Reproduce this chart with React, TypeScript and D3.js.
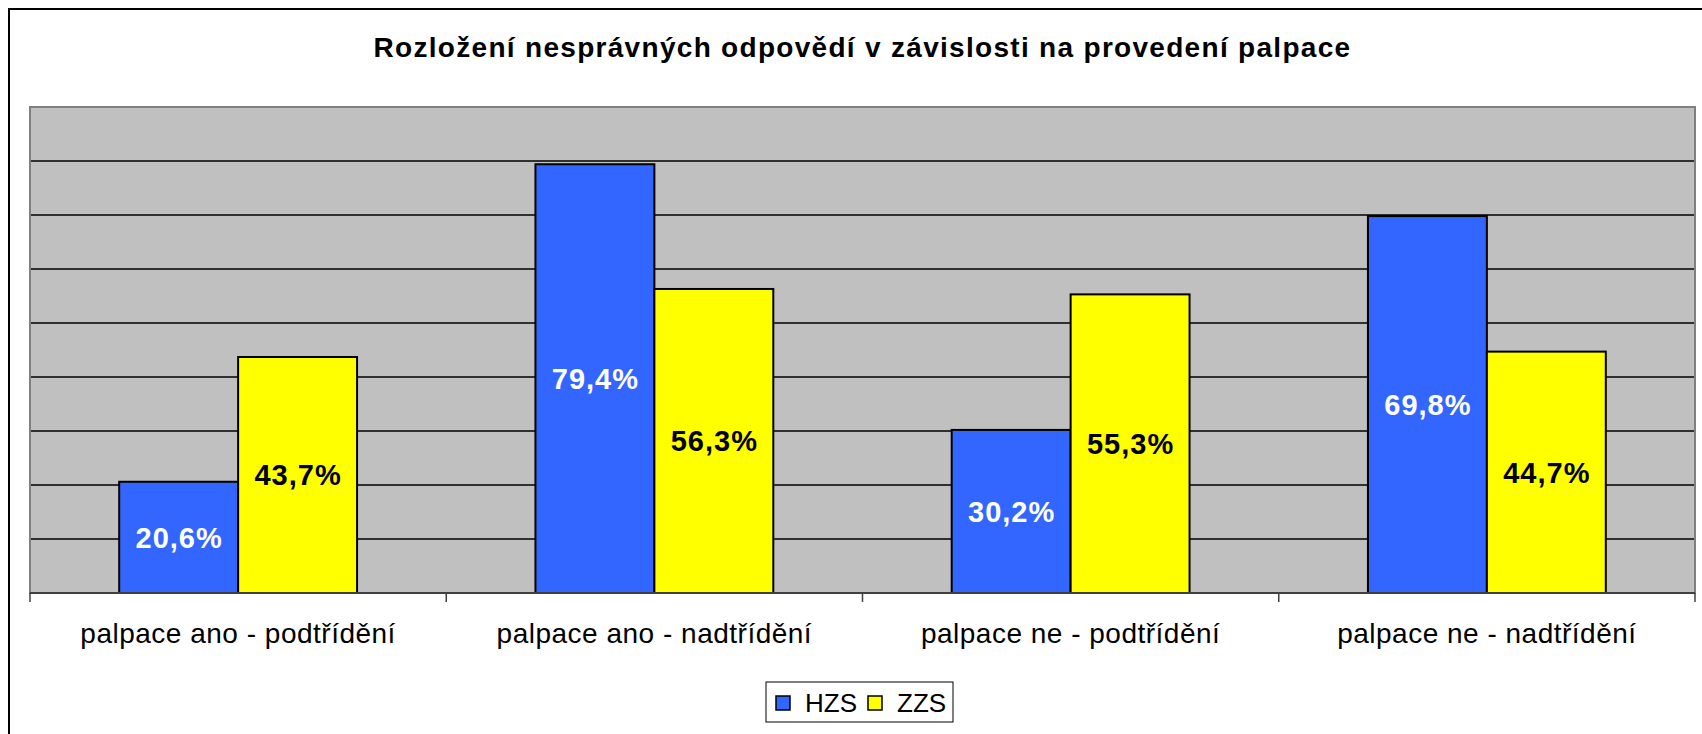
import * as d3 from 'd3';
import React from 'react';

// values
const categories = [
  'palpace ano - podtřídění',
  'palpace ano - nadtřídění',
  'palpace ne - podtřídění',
  'palpace ne - nadtřídění'
];
const seriesNames = ['HZS', 'ZZS'];
const hzsValues = [20.6, 79.4, 30.2, 69.8];
const zzsValues = [43.7, 56.3, 55.3, 44.7];
const yTicks = [0, 10, 20, 30, 40, 50, 60, 70, 80, 90];
const title = 'Rozložení nesprávných odpovědí v závislosti na provedení palpace';

const colors = ['#3366FF', '#FFFF00'];
const labelColors = ['#FFFFFF', '#000000'];
const font = '"Liberation Sans", Arial, sans-serif';

const fmt = (v: number) => `${v.toFixed(1).replace('.', ',')}%`;

export default function App() {
  const width = 1702;
  const height = 734;
  const margin = { left: 30, right: 7, top: 107, bottom: 141 };

  const x0 = d3
    .scaleBand<string>()
    .domain(categories)
    .range([margin.left, width - margin.right]);

  // Excel style: gap width 150% of a bar
  const barW = x0.bandwidth() / (seriesNames.length + 1.5);
  const x1 = d3
    .scaleBand<string>()
    .domain(seriesNames)
    .range([barW * 0.75, barW * 0.75 + barW * seriesNames.length]);

  const y = d3
    .scaleLinear()
    .domain([0, 90])
    .range([height - margin.bottom, margin.top]);

  const series = [hzsValues, zzsValues];
  const plotW = width - margin.left - margin.right;
  const plotH = y(0) - y(90);

  return (
    <svg
      width={width}
      height={height}
      style={{ position: 'absolute', left: 0, top: 0, background: '#fff' }}
    >
      {/* outer chart frame, runs off the page like in the picture */}
      <rect x={9} y={9} width={1740} height={760} fill="#fff" stroke="#000" strokeWidth={2} />

      <text
        x={margin.left + plotW / 2}
        y={57}
        textAnchor="middle"
        fontFamily={font}
        fontWeight="bold"
        fontSize={28}
        letterSpacing={1.3}
        fill="#000"
      >
        {title}
      </text>

      {/* plot area */}
      <rect x={margin.left} y={y(90)} width={plotW} height={plotH} fill="#C0C0C0" />
      {yTicks
        .filter((t) => t > 0 && t < 90)
        .map((t) => (
          <line
            key={t}
            x1={margin.left}
            x2={width - margin.right}
            y1={y(t)}
            y2={y(t)}
            stroke="#000"
            strokeWidth={1.5}
          />
        ))}
      <rect
        x={margin.left}
        y={y(90)}
        width={plotW}
        height={plotH}
        fill="none"
        stroke="#808080"
        strokeWidth={2}
      />

      {categories.map((c, i) => (
        <g key={c} transform={`translate(${x0(c)},0)`}>
          {seriesNames.map((s, j) => {
            const v = series[j][i];
            const bx = x1(s) as number;
            return (
              <g key={s}>
                <rect
                  x={bx}
                  y={y(v)}
                  width={x1.bandwidth()}
                  height={y(0) - y(v)}
                  fill={colors[j]}
                  stroke="#000"
                  strokeWidth={2}
                />
                <text
                  x={bx + x1.bandwidth() / 2 + 0.5}
                  y={(y(v) + y(0)) / 2}
                  dy="0.36em"
                  textAnchor="middle"
                  fontFamily={font}
                  fontWeight="bold"
                  fontSize={29}
                  letterSpacing={1}
                  fill={labelColors[j]}
                >
                  {fmt(v)}
                </text>
              </g>
            );
          })}
          <text
            x={x0.bandwidth() / 2}
            y={643}
            textAnchor="middle"
            fontFamily={font}
            fontSize={28}
            letterSpacing={0.5}
            fill="#000"
          >
            {c}
          </text>
        </g>
      ))}

      {/* category axis */}
      <line
        x1={margin.left}
        x2={width - margin.right}
        y1={y(0)}
        y2={y(0)}
        stroke="#404040"
        strokeWidth={2}
      />
      {[...categories.map((c) => x0(c) as number), width - margin.right].map((tx, i) => (
        <line key={i} x1={tx} x2={tx} y1={y(0)} y2={y(0) + 9} stroke="#404040" strokeWidth={1.5} />
      ))}

      {/* legend */}
      <g>
        <rect x={766} y={682} width={187} height={40} fill="#fff" stroke="#000" strokeWidth={1} />
        {seriesNames.map((s, j) => {
          const lx = j === 0 ? 776 : 868;
          return (
            <g key={s}>
              <rect x={lx} y={696} width={14} height={14} fill={colors[j]} stroke="#000" strokeWidth={1.5} />
              <text x={lx + 29} y={712} fontFamily={font} fontSize={26} fill="#000">
                {s}
              </text>
            </g>
          );
        })}
      </g>
    </svg>
  );
}
